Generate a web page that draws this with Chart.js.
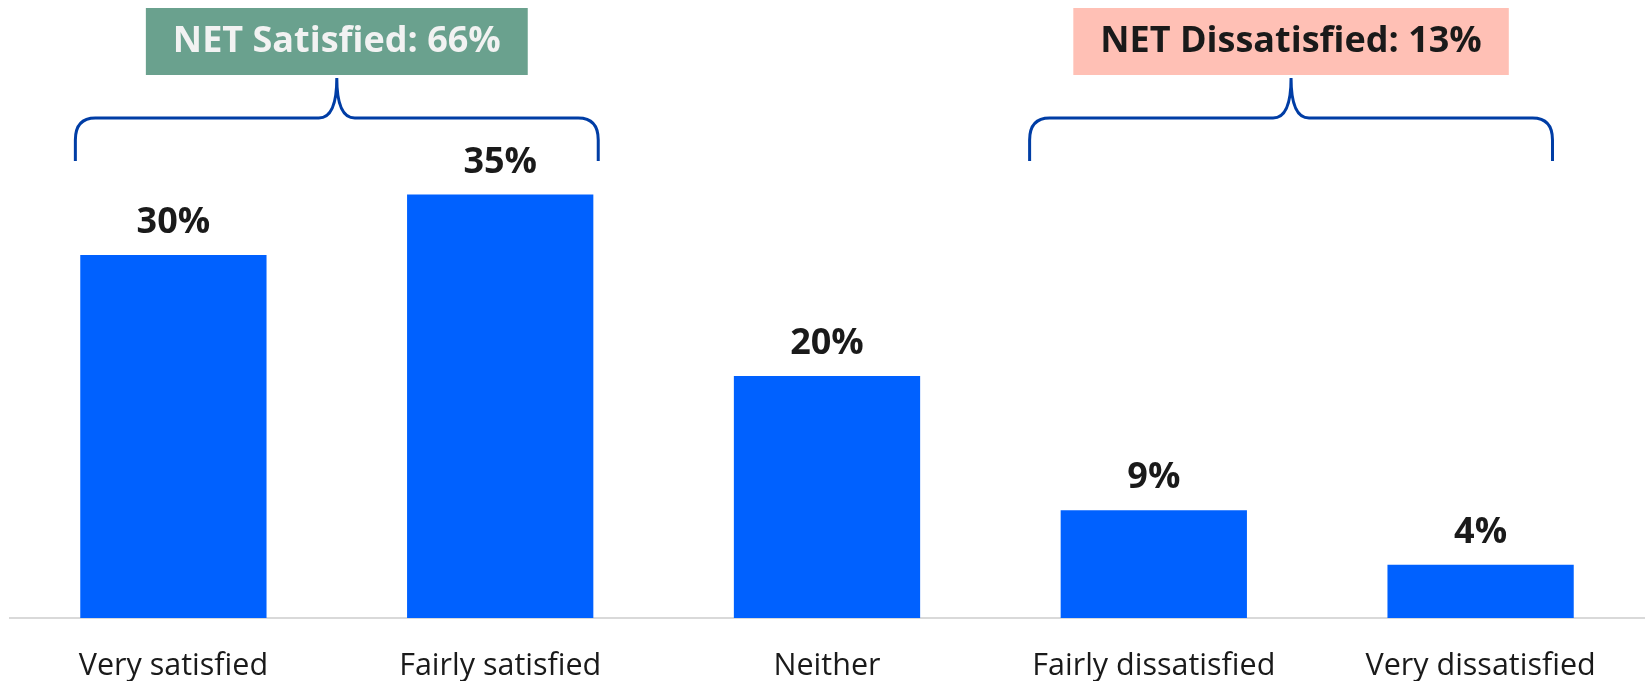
<!DOCTYPE html>
<html>
<head>
<meta charset="utf-8">
<script src="https://cdn.jsdelivr.net/npm/chart.js@4/dist/chart.umd.min.js"></script>
<style>
  body { margin: 0; background: #fff; }
</style>
</head>
<body>
<canvas id="satChart" width="1647" height="687"></canvas>
<script>
const categories = ['Very satisfied', 'Fairly satisfied', 'Neither', 'Fairly dissatisfied', 'Very dissatisfied'];
const shares = [30.0, 35.0, 20.0, 8.9, 4.4];
const netLabels = ['NET Satisfied: 66%', 'NET Dissatisfied: 13%'];
const netColors = ['#6aa18e', '#ffc0b5'];
const netTextColors = ['#f2f2f2', '#1a1a1a'];

// brace spans, in category units (index 0 = first bar centre)
const braceSpans = [[-0.3, 1.3], [2.62, 4.22]];

const FONT = "'Open Sans', 'Noto Sans', sans-serif";

const overlay = {
  id: 'overlay',
  afterDatasetsDraw(chart) {
    const ctx = chart.ctx;
    const x = chart.scales.x;
    const meta = chart.getDatasetMeta(0);
    const x0 = x.getPixelForValue(0);
    const step = x.getPixelForValue(1) - x0;
    const px = v => x0 + step * v;

    ctx.save();
    // value labels
    ctx.fillStyle = '#1a1a1a';
    ctx.font = 'bold 36px ' + FONT;
    ctx.textAlign = 'center';
    ctx.textBaseline = 'alphabetic';
    meta.data.forEach((bar, i) => {
      ctx.fillText(Math.round(shares[i]) + '%', bar.x, bar.y - 22);
    });

    // braces and NET boxes
    const yH = 118, yEnd = 161, yTip = 78;
    braceSpans.forEach((span, k) => {
      const xl = px(span[0]), xr = px(span[1]), xm = (xl + xr) / 2;
      ctx.strokeStyle = '#003da5';
      ctx.lineWidth = 3;
      ctx.beginPath();
      ctx.moveTo(xl, yEnd);
      ctx.lineTo(xl, yH + 22);
      ctx.quadraticCurveTo(xl, yH, xl + 20, yH);
      ctx.lineTo(xm - 18, yH);
      ctx.quadraticCurveTo(xm, yH, xm, yTip);
      ctx.quadraticCurveTo(xm, yH, xm + 18, yH);
      ctx.lineTo(xr - 20, yH);
      ctx.quadraticCurveTo(xr, yH, xr, yH + 22);
      ctx.lineTo(xr, yEnd);
      ctx.stroke();

      ctx.font = 'bold 36px ' + FONT;
      const tw = ctx.measureText(netLabels[k]).width;
      const bw = tw + 54;
      ctx.fillStyle = netColors[k];
      ctx.fillRect(xm - bw / 2, 8, bw, 67);
      ctx.fillStyle = netTextColors[k];
      ctx.textBaseline = 'middle';
      ctx.fillText(netLabels[k], xm, 42);
      ctx.textBaseline = 'alphabetic';
    });
    ctx.restore();
  }
};

new Chart(document.getElementById('satChart'), {
  type: 'bar',
  data: {
    labels: categories,
    datasets: [{
      data: shares,
      backgroundColor: '#0061ff',
      barPercentage: 0.57,
      categoryPercentage: 1.0
    }]
  },
  options: {
    responsive: false,
    animation: false,
    devicePixelRatio: 1,
    layout: { padding: { left: 10, right: 3, top: 13, bottom: 6 } },
    plugins: { legend: { display: false }, tooltip: { enabled: false } },
    scales: {
      y: { display: false, min: 0, max: 50 },
      x: {
        afterFit: (scale) => { scale.height = 63; },
        grid: { display: true, drawOnChartArea: false, drawTicks: false },
        border: { display: true, color: '#d9d9d9', width: 2 },
        ticks: {
          color: '#1a1a1a',
          padding: 30,
          maxRotation: 0,
          autoSkip: false,
          font: { family: FONT, size: 30.5 }
        }
      }
    }
  },
  plugins: [overlay]
});
</script>
</body>
</html>
